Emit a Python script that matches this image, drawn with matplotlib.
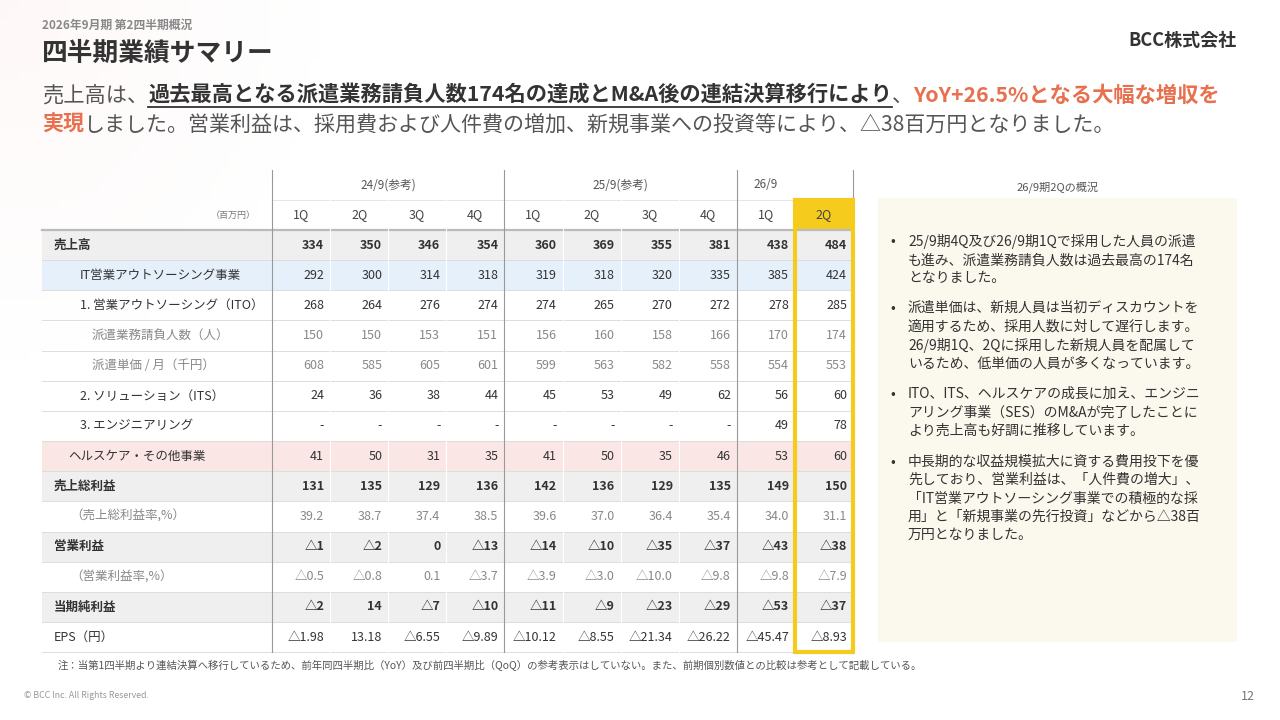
import matplotlib
matplotlib.use("Agg")
import matplotlib.pyplot as plt
from matplotlib.patches import Rectangle
import numpy as np

plt.rcParams['font.family'] = ['Noto Sans CJK JP', 'DejaVu Sans']

groups = ["24/9(参考)", "25/9(参考)", "26/9"]
quarters = ["1Q", "2Q", "3Q", "4Q", "1Q", "2Q", "3Q", "4Q", "1Q", "2Q"]
row_labels = ["売上高", "IT営業アウトソーシング事業", "1. 営業アウトソーシング（ITO）",
              "派遣業務請負人数（人）", "派遣単価 / 月（千円）", "2. ソリューション（ITS）",
              "3. エンジニアリング", "ヘルスケア・その他事業", "売上総利益", "（売上総利益率,%）",
              "営業利益", "（営業利益率,%）", "当期純利益", "EPS（円）"]
sales = ["334", "350", "346", "354", "360", "369", "355", "381", "438", "484"]
it_out = ["292", "300", "314", "318", "319", "318", "320", "335", "385", "424"]
ito = ["268", "264", "276", "274", "274", "265", "270", "272", "278", "285"]
staff = ["150", "150", "153", "151", "156", "160", "158", "166", "170", "174"]
unit_price = ["608", "585", "605", "601", "599", "563", "582", "558", "554", "553"]
its = ["24", "36", "38", "44", "45", "53", "49", "62", "56", "60"]
eng = ["-", "-", "-", "-", "-", "-", "-", "-", "49", "78"]
health = ["41", "50", "31", "35", "41", "50", "35", "46", "53", "60"]
gross = ["131", "135", "129", "136", "142", "136", "129", "135", "149", "150"]
gross_rate = ["39.2", "38.7", "37.4", "38.5", "39.6", "37.0", "36.4", "35.4", "34.0", "31.1"]
op = ["△1", "△2", "0", "△13", "△14", "△10", "△35", "△37", "△43", "△38"]
op_rate = ["△0.5", "△0.8", "0.1", "△3.7", "△3.9", "△3.0", "△10.0", "△9.8", "△9.8", "△7.9"]
net = ["△2", "14", "△7", "△10", "△11", "△9", "△23", "△29", "△53", "△37"]
eps = ["△1.98", "13.18", "△6.55", "△9.89", "△10.12", "△8.55", "△21.34", "△26.22", "△45.47", "△8.93"]
table = [sales, it_out, ito, staff, unit_price, its, eng, health, gross, gross_rate, op, op_rate, net, eps]

bullets = [
    "25/9期4Q及び26/9期1Qで採用した人員の派遣\nも進み、派遣業務請負人数は過去最高の174名\nとなりました。",
    "派遣単価は、新規人員は当初ディスカウントを\n適用するため、採用人数に対して遅行します。\n26/9期1Q、2Qに採用した新規人員を配属して\nいるため、低単価の人員が多くなっています。",
    "ITO、ITS、ヘルスケアの成長に加え、エンジニ\nアリング事業（SES）のM&Aが完了したことに\nより売上高も好調に推移しています。",
    "中長期的な収益規模拡大に資する費用投下を優\n先しており、営業利益は、「人件費の増大」、\n「IT営業アウトソーシング事業での積極的な採\n用」と「新規事業の先行投資」などから△38百\n万円となりました。",
]

fig = plt.figure(figsize=(12.8, 7.2), dpi=100)
ax = fig.add_axes([0, 0, 1, 1])
ax.set_xlim(0, 1280); ax.set_ylim(720, 0); ax.axis('off')

g = np.zeros((72, 128, 4))
xx, yy = np.meshgrid(np.linspace(0, 1, 128), np.linspace(0, 1, 72))
g[..., 0] = 0.99; g[..., 1] = 0.93; g[..., 2] = 0.92
g[..., 3] = np.clip(0.35 * (1 - np.hypot(xx / 0.25, yy / 0.5)), 0, 1)
ax.imshow(g, extent=[0, 1280, 720, 0], zorder=0, aspect='auto')

ax.text(42, 25, "2026年9月期 第2四半期概況", fontsize=8.5, fontweight='bold', color='#888888', va='center')
ax.text(42, 53, "四半期業績サマリー", fontsize=18.5, fontweight='bold', color='#333333', va='center')
ax.text(1237, 40, "BCC株式会社", fontsize=13, fontweight='bold', color='#333333', va='center', ha='right')

fig.canvas.draw()
r = fig.canvas.get_renderer()
def run(pieces, x, y, fs):
    for txt, st in pieces:
        kw = dict(fontsize=fs, va='baseline', color='#555555')
        if st in ('b', 'o'):
            kw['fontweight'] = 'bold'
        if st == 'b':
            kw['color'] = '#333333'
        if st == 'o':
            kw['color'] = '#E8704E'
        t = ax.text(x, y, txt, **kw)
        w = t.get_window_extent(renderer=r).width
        if st == 'b':
            ax.plot([x, x + w], [y + 5, y + 5], color='#333333', lw=1.3)
        x += w
run([("売上高は、", 'n'), ("過去最高となる派遣業務請負人数174名の達成とM&A後の連結決算移行により", 'b'),
     ("、", 'n'), ("YoY+26.5%となる大幅な増収を", 'o')], 42, 102, 15.3)
run([("実現", 'o'), ("しました。営業利益は、採用費および人件費の増加、新規事業への投資等により、△38百万円となりました。", 'n')], 42, 131, 15.1)

xl, x0, cw = 42, 272, 58.1
ytop, yq, yd, rh = 170, 200, 230, 30.15
nrows = len(row_labels)
yend = yd + nrows * rh
colx = [x0 + i * cw for i in range(11)]

bg = {0: '#EFEFEF', 1: '#E6F0FA', 7: '#FBE6E6', 8: '#EFEFEF', 10: '#EFEFEF', 12: '#EFEFEF'}
for i, c in bg.items():
    ax.add_patch(Rectangle((xl, yd + i * rh), colx[-1] - xl, rh, fc=c, ec='none', zorder=1))
ax.add_patch(Rectangle((colx[9], yq), cw, yd - yq, fc='#F5CB1E', ec='none', zorder=1))

for i in range(nrows + 1):
    y = yd + i * rh
    ax.plot([xl, colx[-1]], [y, y], color='#BBBBBB' if i == 0 else '#DDDDDD', lw=1.6 if i == 0 else 0.7, zorder=2)
ax.plot([x0, colx[-1]], [yq, yq], color='#E5E5E5', lw=0.7, zorder=2)
for i in range(1, 10):
    ax.plot([colx[i], colx[i]], [yq, yend], color='white', lw=0.8, zorder=2)
for i in [0, 4, 8, 10]:
    ax.plot([colx[i], colx[i]], [ytop, yend], color='#999999', lw=0.8, zorder=3)
ax.add_patch(Rectangle((colx[9], yq), cw, yend - yq, fc='none', ec='#F5CB1E', lw=3, zorder=4))

for gi, gname in enumerate(groups):
    a, b = [(0, 4), (4, 8), (8, 9)][gi]
    ax.text((colx[a] + colx[b]) / 2, (ytop + yq) / 2, gname, fontsize=8.5, color='#555555', ha='center', va='center')
ax.text(colx[0] - 16, (yq + yd) / 2, "（百万円）", fontsize=6.5, color='#777777', ha='right', va='center')
for j, q in enumerate(quarters):
    ax.text((colx[j] + colx[j + 1]) / 2, (yq + yd) / 2, q, fontsize=9, color='#444444', ha='center', va='center', zorder=5)

indent = {0: 12, 1: 38, 2: 38, 3: 50, 4: 50, 5: 38, 6: 38, 7: 26, 8: 12, 9: 28, 10: 12, 11: 28, 12: 12, 13: 12}
bold_rows = {0, 8, 10, 12}
gray_rows = {3, 4, 9, 11}
for i, lab in enumerate(row_labels):
    yc = yd + (i + 0.5) * rh
    b = i in bold_rows
    col = '#888888' if i in gray_rows else '#333333'
    ax.text(xl + indent[i], yc, lab, fontsize=9, color=col, va='center', fontweight='bold' if b else 'normal', zorder=5)
    for j, v in enumerate(table[i]):
        ax.text(colx[j + 1] - 6, yc, v, fontsize=9, color=col, va='center', ha='right',
                fontweight='bold' if b else 'normal', zorder=5)

ax.text(1058, 187, "26/9期2Qの概況", fontsize=8, color='#555555', ha='center', va='center')
ax.add_patch(Rectangle((878, 198), 359, 444, fc='#FBF8EE', ec='none', zorder=1))
ys = [234, 301, 387, 455]
for y, t in zip(ys, bullets):
    ax.text(890, y, "•", fontsize=10, color='#333333', va='top')
    ax.text(908, y, t, fontsize=10, color='#333333', va='top', linespacing=1.38)

ax.text(58, 666, "注：当第1四半期より連結決算へ移行しているため、前年同四半期比（YoY）及び前四半期比（QoQ）の参考表示はしていない。また、前期個別数値との比較は参考として記載している。",
        fontsize=7.5, color='#555555', va='center')
ax.text(24, 696, "© BCC Inc. All Rights Reserved.", fontsize=6.3, color='#999999', va='center')
ax.text(1255, 697, "12", fontsize=9, color='#777777', va='center', ha='right')

fig.savefig("out.png", dpi=100)
